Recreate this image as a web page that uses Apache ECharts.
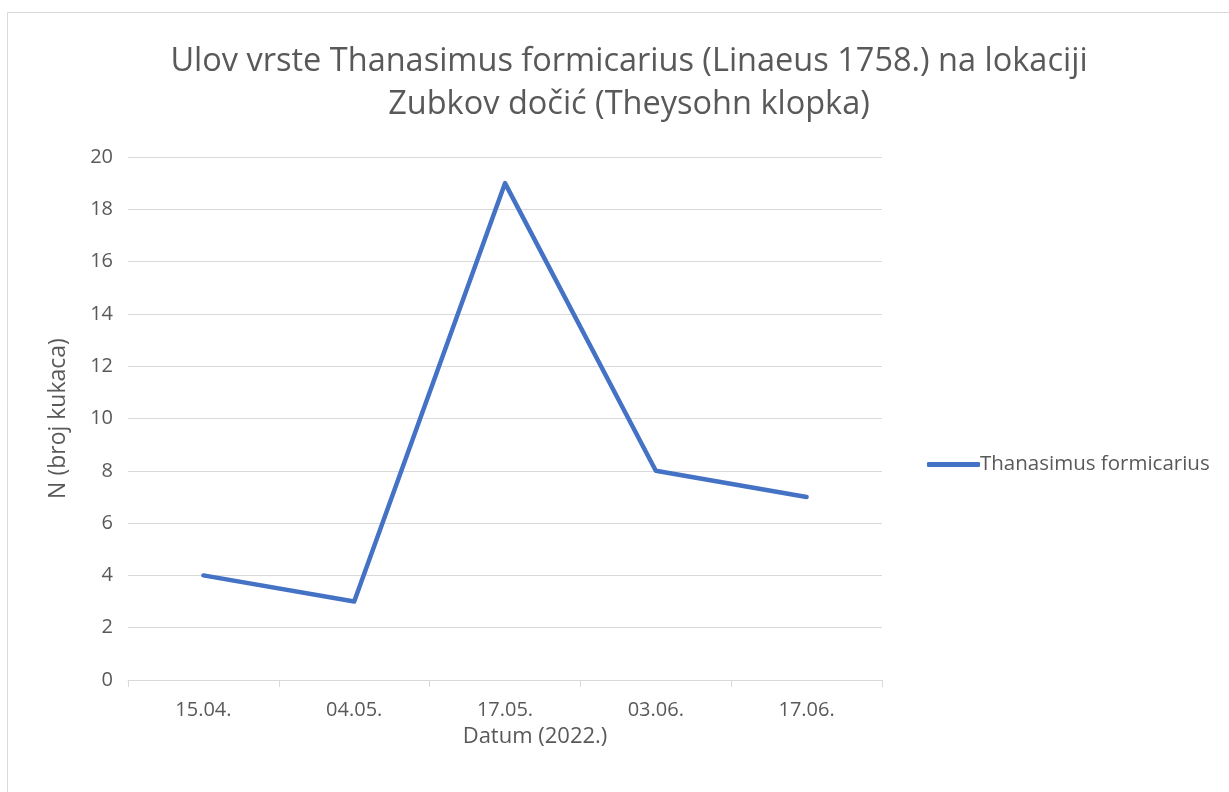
<!DOCTYPE html>
<html><head><meta charset="utf-8">
<script src="https://cdn.jsdelivr.net/npm/echarts@6/dist/echarts.min.js"></script>
<style>html,body{margin:0;padding:0;background:#fff}#c{width:1229px;height:792px}</style>
</head><body><div id="c"></div>
<script>
const categories = ['15.04.', '04.05.', '17.05.', '03.06.', '17.06.'];
const values = [4, 3, 19, 8, 7];
const seriesName = 'Thanasimus formicarius';
const titleText = 'Ulov vrste Thanasimus formicarius (Linaeus 1758.) na lokaciji\nZubkov dočić (Theysohn klopka)';
const yName = 'N (broj kukaca)';
const xName = 'Datum (2022.)';

const FONT = '"Open Sans"';
const chart = echarts.init(document.getElementById('c'), null, {renderer: 'canvas'});
chart.setOption({
  backgroundColor: '#fff',
  animation: false,
  graphic: [{type: 'rect', shape: {x: 7.5, y: 12.5, width: 1240, height: 800}, style: {fill: 'none', stroke: '#d9d9d9', lineWidth: 1}, silent: true}],
  title: {
    text: titleText, left: 624, top: 35, textAlign: 'center',
    textStyle: {fontFamily: FONT, fontSize: 32.5, fontWeight: 'normal', color: '#595959', lineHeight: 43}
  },
  legend: {
    data: [seriesName], left: 922, top: 449, orient: 'vertical',
    itemWidth: 53, itemHeight: 5, itemGap: 5,
    icon: 'roundRect',
    textStyle: {fontFamily: FONT, fontSize: 20.5, color: '#595959', padding: [0, 0, 0, -5]}
  },
  grid: {left: 128, right: 347, top: 157, bottom: 112, containLabel: false},
  xAxis: {
    type: 'category', data: categories, boundaryGap: true,
    name: xName, nameLocation: 'middle', nameGap: 46,
    nameTextStyle: {fontFamily: FONT, fontSize: 22, color: '#595959', padding: [0, 0, 0, 60]},
    axisLine: {lineStyle: {color: '#d9d9d9', width: 1}},
    axisTick: {show: true, length: 7, lineStyle: {color: '#d9d9d9'}, alignWithLabel: false},
    axisLabel: {fontFamily: FONT, fontSize: 20, color: '#595959', margin: 20}
  },
  yAxis: {
    type: 'value', min: 0, max: 20, interval: 2,
    name: yName, nameLocation: 'middle', nameGap: 58, nameRotate: 90,
    nameTextStyle: {fontFamily: FONT, fontSize: 23, color: '#595959'},
    axisLine: {show: false}, axisTick: {show: false},
    splitLine: {lineStyle: {color: '#d9d9d9', width: 1}},
    axisLabel: {fontFamily: FONT, fontSize: 20, color: '#595959', margin: 15}
  },
  series: [{
    name: seriesName, type: 'line', data: values, showSymbol: false, symbol: 'none',
    lineStyle: {color: '#4472C4', width: 4.5, cap: 'round', join: 'round'},
    itemStyle: {color: '#4472C4'}
  }]
});
</script></body></html>
